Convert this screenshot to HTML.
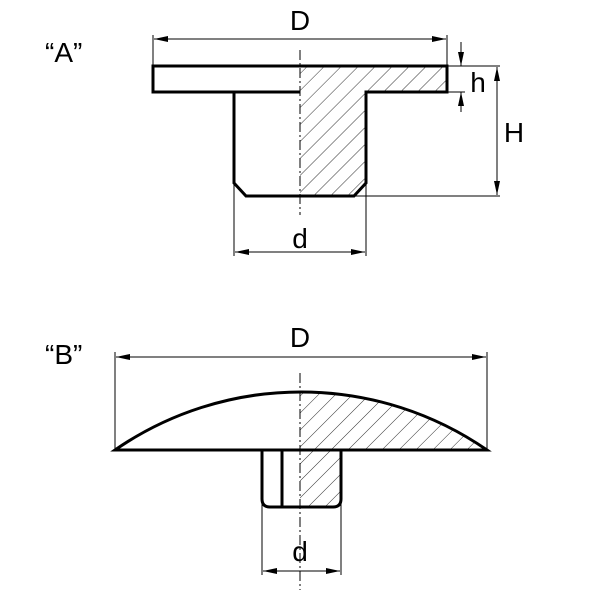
<!DOCTYPE html>
<html><head><style>html,body{margin:0;padding:0;background:#fff}svg{display:block}</style></head><body>
<svg width="600" height="600" viewBox="0 0 600 600" xmlns="http://www.w3.org/2000/svg" font-family="Liberation Sans, sans-serif">
<defs>
<pattern id="h" patternUnits="userSpaceOnUse" width="12" height="12" patternTransform="rotate(45)">
<line x1="0" y1="0" x2="0" y2="12" stroke="#000" stroke-width="0.8"/>
</pattern>
<marker id="ar" markerWidth="14" markerHeight="6" refX="14" refY="3" orient="auto-start-reverse" markerUnits="userSpaceOnUse">
<path d="M0,0 L14,3 L0,6 Z" fill="#000"/></marker>
<clipPath id="cB"><path d="M115 450 A327 327 0 0 1 487 450 Z"/></clipPath>
</defs>
<g font-size="28">
<text x="45" y="62">“A”</text>
<text x="45" y="364">“B”</text>
<text x="300" y="30" text-anchor="middle">D</text>
<text x="478" y="92" text-anchor="middle">h</text>
<text x="514" y="142" text-anchor="middle">H</text>
<text x="300" y="248" text-anchor="middle">d</text>
<text x="300" y="347" text-anchor="middle">D</text>
<text x="300" y="561" text-anchor="middle">d</text>
</g>
<path d="M300 66 H447 V92 H366 V183 L354 196 H300 Z" fill="url(#h)"/>
<path d="M300 92 H153 V66 H447 V92 H366 V183 L354 196 H246 L234 183 V92" fill="none" stroke="#000" stroke-width="3"/>
<line x1="300" y1="50" x2="300" y2="215" stroke="#000" stroke-width="1" stroke-dasharray="10,3,2,3"/>
<g stroke="#000" stroke-width="1" fill="none">
<line x1="153" y1="35" x2="153" y2="66"/><line x1="447" y1="35" x2="447" y2="66"/>
<line x1="154" y1="39" x2="446" y2="39" marker-start="url(#ar)" marker-end="url(#ar)"/>
<line x1="447" y1="66" x2="500" y2="66"/><line x1="447" y1="92" x2="465" y2="92"/>
<line x1="354" y1="196" x2="500" y2="196"/>
<line x1="461" y1="42" x2="461" y2="66" marker-end="url(#ar)"/>
<line x1="461" y1="112" x2="461" y2="92" marker-end="url(#ar)"/>
<line x1="497" y1="67" x2="497" y2="195" marker-start="url(#ar)" marker-end="url(#ar)"/>
<line x1="234" y1="183" x2="234" y2="256"/><line x1="366" y1="183" x2="366" y2="256"/>
<line x1="235" y1="252" x2="365" y2="252" marker-start="url(#ar)" marker-end="url(#ar)"/>
</g>
<rect x="300" y="380" width="190" height="70" fill="url(#h)" clip-path="url(#cB)"/>
<path d="M300 450 H341 V499 Q341 507 333 507 H300 Z" fill="url(#h)"/>
<path d="M115 450 A327 327 0 0 1 487 450 Z" fill="none" stroke="#000" stroke-width="3"/>
<path d="M300 450 H341 V499 Q341 507 333 507 H270 Q262 507 262 499 V450 M282 450 V507" fill="none" stroke="#000" stroke-width="3"/>
<line x1="300" y1="373" x2="300" y2="590" stroke="#000" stroke-width="1" stroke-dasharray="10,3,2,3"/>
<g stroke="#000" stroke-width="1" fill="none">
<line x1="115" y1="352" x2="115" y2="450"/><line x1="487" y1="352" x2="487" y2="450"/>
<line x1="116" y1="357" x2="486" y2="357" marker-start="url(#ar)" marker-end="url(#ar)"/>
<line x1="262" y1="500" x2="262" y2="575"/><line x1="341" y1="500" x2="341" y2="575"/>
<line x1="263" y1="571" x2="340" y2="571" marker-start="url(#ar)" marker-end="url(#ar)"/>
</g>
</svg>
</body></html>
